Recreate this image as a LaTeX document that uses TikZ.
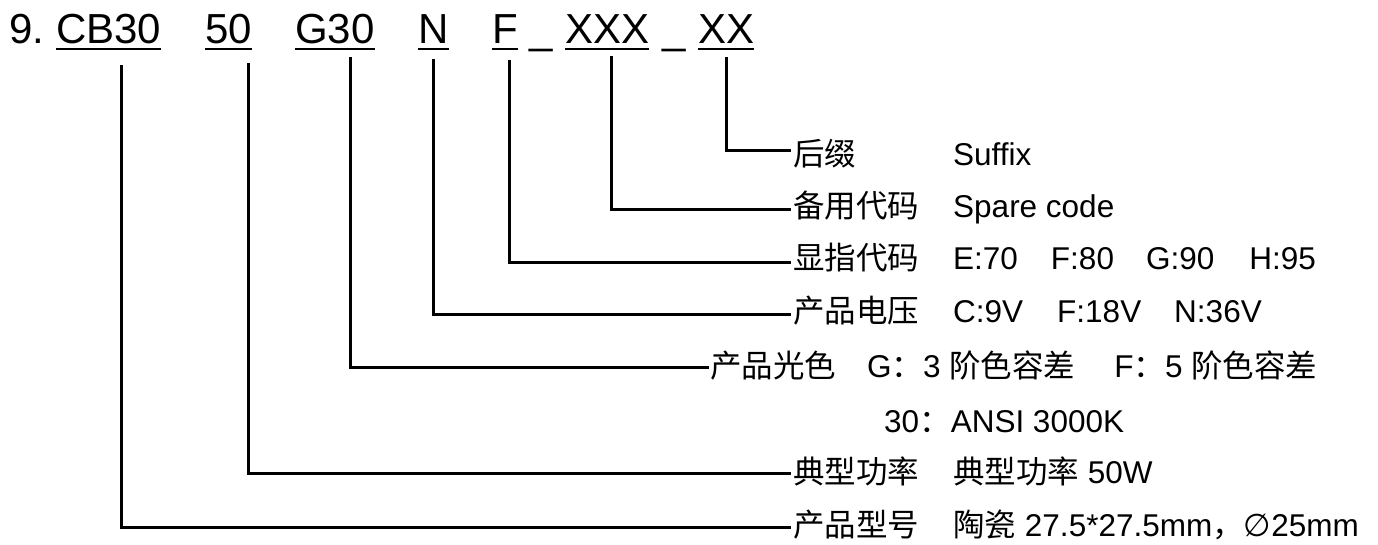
\documentclass[tikz,border=0pt]{standalone}
\usepackage{fontspec}
\setmainfont{Liberation Sans}
\newfontfamily\cjk{Noto Sans CJK SC}
\newfontfamily\dvs{DejaVu Sans}
\begin{document}
\begin{tikzpicture}[x=1pt,y=-1pt,
  title/.style={inner sep=0pt, anchor=base west, font=\fontsize{42}{48}\selectfont},
  lab/.style={inner sep=0pt, anchor=base west, font=\fontsize{31.5}{36}\selectfont},
  conn/.style={line width=3pt},
  uline/.style={line width=2.6pt}]
\useasboundingbox (0,0) rectangle (1378,544);
% title code
\node[title] (n9) at (9,43) {9.};
\node[title] (cb) at (56,43) {CB30};
\node[title] (p50) at (205,43) {50};
\node[title] (g30) at (295,43) {G30};
\node[title] (nn) at (418,43) {N};
\node[title] (ff) at (492,43) {F};
\node[title] (us1) at (529,43) {\_};
\node[title] (x3) at (565,43) {XXX};
\node[title] (us2) at (662,43) {\_};
\node[title] (x2) at (698,43) {XX};
\foreach \n in {cb,p50,g30,nn,ff,x3,x2}
  \draw[uline] ([yshift=-6pt]\n.base west) -- ([yshift=-6pt]\n.base east);
% tops of the leader lines
\coordinate (t1) at (121.5,65);
\coordinate (t2) at (248,63);
\coordinate (t3) at (350,57);
\coordinate (t4) at (433,59);
\coordinate (t5) at (509,60);
\coordinate (t6) at (611,56);
\coordinate (t7) at (726,57);
% labels
\node[lab] (a1) at (793,165) {\cjk 后缀};
\node[lab] (b1) at (953,165) {Suffix};
\node[lab] (a2) at (793,217) {\cjk 备用代码};
\node[lab] (b2) at (953,217) {Spare code};
\node[lab] (a3) at (793,269) {\cjk 显指代码};
\node[lab] (b3) at (953,269) {E:70\hspace{33pt}F:80\hspace{32pt}G:90\hspace{35pt}H:95};
\node[lab] (a4) at (793,322) {\cjk 产品电压};
\node[lab] (b4) at (953,322) {C:9V\hspace{34pt}F:18V\hspace{33pt}N:36V};
\node[lab] (a5) at (710,377) {\cjk 产品光色};
\node[lab] (b5) at (867,377) {G{\cjk ：}3 {\cjk 阶色容差}\hspace{39pt}F{\cjk ：}5 {\cjk 阶色容差}};
\node[lab] (b6) at (884,432) {30{\cjk ：}ANSI 3000K};
\node[lab] (a7) at (793,483) {\cjk 典型功率};
\node[lab] (b7) at (953,483) {{\cjk 典型功率} 50W};
\node[lab] (a8) at (793,536) {\cjk 产品型号};
\node[lab] (b8) at (953,536) {{\cjk 陶瓷} 27.5*27.5mm{\cjk ，}{\dvs ∅}25mm};
% line ends
\coordinate (e1) at (791,150);
\coordinate (e2) at (791,209);
\coordinate (e3) at (791,262);
\coordinate (e4) at (791,314);
\coordinate (e5) at (709,367);
\coordinate (e7) at (791,473);
\coordinate (e8) at (791,527);
\draw[conn] (t7) |- (e1);
\draw[conn] (t6) |- (e2);
\draw[conn] (t5) |- (e3);
\draw[conn] (t4) |- (e4);
\draw[conn] (t3) |- (e5);
\draw[conn] (t2) |- (e7);
\draw[conn] (t1) |- (e8);
\end{tikzpicture}
\end{document}
